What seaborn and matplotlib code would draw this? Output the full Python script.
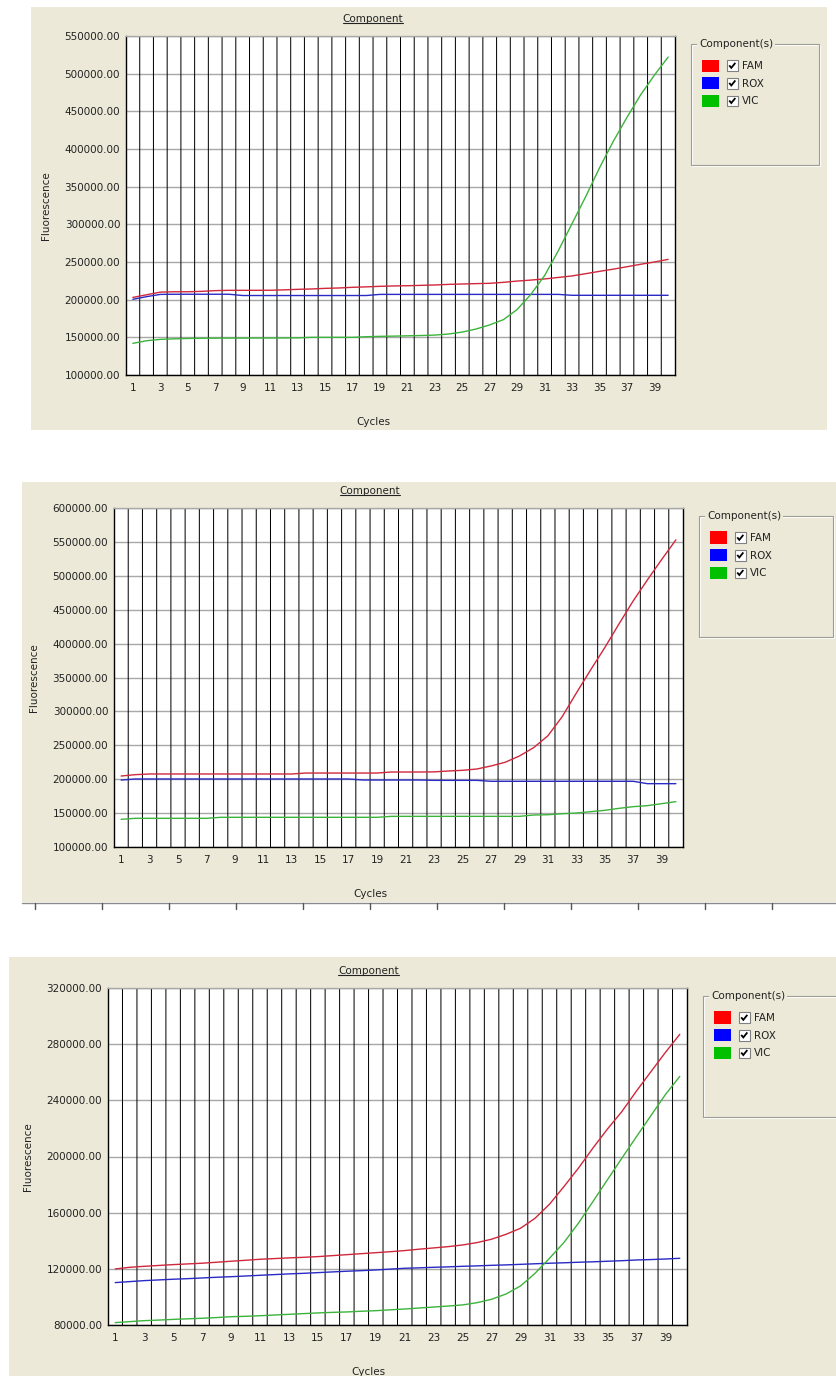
import matplotlib
matplotlib.use("Agg")
import matplotlib.pyplot as plt
import numpy as np
import pandas as pd
import seaborn as sns
from matplotlib.patches import Rectangle, Patch
from matplotlib.lines import Line2D
from matplotlib.legend_handler import HandlerBase

# ---------------------------------------------------------------- data
cycles = list(range(1, 41))
components = ["FAM", "ROX", "VIC"]

# run 1
fam_1 = [203000, 206500, 210000, 210500, 210500, 211000, 212000, 212400, 212400, 212400,
         212500, 213000, 213700, 214200, 215000, 215500, 216400, 217000, 217700, 218200,
         218500, 219000, 219500, 220300, 220800, 221300, 221700, 223000, 224700, 226000,
         227500, 229500, 231500, 234500, 237600, 240500, 243700, 247000, 250000, 253500]
rox_1 = [200500, 204000, 207000, 207200, 207200, 207200, 207200, 207200, 205500, 205500,
         205500, 205500, 205500, 205500, 205500, 205500, 205500, 205500, 207000, 207000,
         207000, 207000, 207000, 207000, 207000, 207000, 207000, 207000, 207000, 207000,
         207000, 207000, 205800, 205800, 205800, 205800, 205800, 205800, 205800, 205800]
vic_1 = [142000, 145500, 147300, 148000, 148500, 148800, 148900, 149000, 149000, 149100,
         149100, 149200, 149300, 150000, 150000, 150000, 150000, 150800, 151300, 151600,
         152000, 152400, 153000, 154400, 157000, 161000, 166500, 173500, 187000, 207000,
         232000, 265000, 301000, 337000, 375000, 410000, 442000, 472000, 498000, 522000]

# run 2
fam_2 = [204700, 206700, 207700, 207700, 207700, 207700, 207700, 207700, 207700, 207700,
         207700, 207700, 207700, 209100, 209100, 209100, 209100, 209100, 209100, 210600,
         210600, 210600, 210800, 212100, 213100, 215000, 219500, 225000, 234200, 246500,
         264000, 292000, 327000, 361000, 394000, 429000, 463000, 494000, 524000, 553000]
rox_2 = [198800, 200300, 200300, 200300, 200300, 200300, 200300, 200300, 200300, 200300,
         200300, 200300, 200300, 200300, 200300, 200300, 200300, 198800, 198800, 198800,
         198800, 198800, 198300, 198300, 198300, 198300, 196900, 196900, 196900, 196900,
         196900, 196900, 196900, 196900, 196900, 196900, 196900, 193400, 193400, 193400]
vic_2 = [140800, 142300, 142300, 142300, 142300, 142300, 142300, 143800, 143800, 143800,
         143800, 143800, 143800, 143800, 143800, 143800, 143800, 143800, 143800, 145200,
         145200, 145200, 145200, 145200, 145200, 145200, 145200, 145200, 145200, 147200,
         147600, 149100, 150100, 152100, 154100, 157000, 159500, 161000, 163900, 166900]

# run 3
fam_3 = [119900, 121100, 121800, 122400, 123000, 123500, 124000, 124700, 125400, 126100,
         126800, 127300, 127800, 128200, 128700, 129400, 130100, 130800, 131500, 132200,
         133000, 134000, 134900, 135800, 137000, 138700, 141100, 144600, 148900, 156000,
         166000, 178600, 191700, 206000, 219500, 232000, 246500, 260300, 274000, 287000]
rox_3 = [110200, 110900, 111600, 112100, 112600, 113000, 113500, 114000, 114400, 114900,
         115400, 115900, 116400, 116800, 117300, 117800, 118300, 118700, 119200, 119800,
         120400, 120700, 121100, 121400, 121800, 122100, 122500, 122800, 123200, 123600,
         124000, 124300, 124700, 125000, 125400, 125800, 126300, 126600, 127000, 127500]
vic_3 = [81700, 82400, 83100, 83500, 84000, 84400, 84800, 85300, 85900, 86200,
         86600, 87100, 87600, 88100, 88600, 89000, 89300, 89800, 90200, 90800,
         91400, 92100, 92800, 93500, 94300, 95900, 98300, 102100, 107800, 116800,
         127500, 138800, 152500, 167900, 183400, 198800, 214000, 229000, 244000, 257000]

y_ticks_1 = [100000, 150000, 200000, 250000, 300000, 350000, 400000, 450000, 500000, 550000]
y_ticks_2 = [100000, 150000, 200000, 250000, 300000, 350000, 400000, 450000, 500000, 550000, 600000]
y_ticks_3 = [80000, 120000, 160000, 200000, 240000, 280000, 320000]
x_tick_labels = list(range(1, 40, 2))

runs = [
    ([fam_1, rox_1, vic_1], y_ticks_1),
    ([fam_2, rox_2, vic_2], y_ticks_2),
    ([fam_3, rox_3, vic_3], y_ticks_3),
]

# ---------------------------------------------------------------- style
sns.set_style("white")
plt.rcParams["font.family"] = ["DejaVu Sans"]
TXT = "#222222"
BEIGE = "#ECE9D8"
line_colors = {"FAM": "#d0283c", "ROX": "#2a2ac4", "VIC": "#3cb43c"}
swatch_colors = {"FAM": "#ff0000", "ROX": "#0000ff", "VIC": "#00c000"}
FS = 7.5

W, H = 836, 1376
fig = plt.figure(figsize=(W / 100, H / 100), dpi=100)
fig.patch.set_facecolor("white")


def fx(px):
    return px / W


def fy(py):
    return 1 - py / H


# panel boxes in pixels: background (x0, y0, x1, y1), plot (left, top, right, bottom), group-box width
layout = [
    ((31, 7, 827, 430), (126, 36, 675, 375), 128),
    ((22, 482, 836, 902), (114, 508, 683, 847), 134),
    ((9, 957, 836, 1376), (108, 988, 687, 1325), 134),
]


class SwatchCheck(HandlerBase):
    """Colour swatch followed by a ticked checkbox."""

    def create_artists(self, legend, orig_handle, xdescent, ydescent,
                       width, height, fontsize, trans):
        x0, y0 = -xdescent, -ydescent
        sw = Rectangle((x0, y0), 12, height, facecolor=orig_handle.get_facecolor(),
                       edgecolor="none", transform=trans)
        bs = 7.6
        bx, by = x0 + 18, y0 + (height - bs) / 2
        box = Rectangle((bx, by), bs, bs, facecolor="white", edgecolor="#808080",
                        linewidth=0.8, transform=trans)
        tick = Line2D([bx + 1.6, bx + 3.1, bx + 6.0], [by + 4.0, by + 2.2, by + 5.8],
                      color="black", linewidth=1.3, transform=trans,
                      solid_capstyle="butt", solid_joinstyle="miter")
        return [sw, box, tick]


titles = []
for (ser, yt), (bg, (l, t, r, b), legw) in zip(runs, layout):
    x0, y0, x1, y1 = bg
    fig.add_artist(Rectangle((fx(x0), fy(y1)), (x1 - x0) / W, (y1 - y0) / H,
                             transform=fig.transFigure, facecolor=BEIGE,
                             edgecolor="none", zorder=0))

    ax = fig.add_axes([fx(l), fy(b), (r - l) / W, (b - t) / H])
    ax.set_facecolor("white")

    df = pd.DataFrame({
        "Cycle": np.tile(cycles, len(components)),
        "Fluorescence": np.concatenate([np.asarray(s, dtype=float) for s in ser]),
        "Component": np.repeat(components, len(cycles)),
    })

    # cycle separators
    for c in cycles[:-1]:
        ax.axvline(c + 0.5, color="black", linewidth=0.72, snap=False, zorder=1)

    sns.lineplot(data=df, x="Cycle", y="Fluorescence", hue="Component",
                 palette=line_colors, ax=ax, legend=False, linewidth=1.0,
                 zorder=3)

    ax.set_xlim(0.5, 40.5)
    ax.set_ylim(yt[0], yt[-1])
    ax.set_yticks(yt)
    ax.set_yticklabels([f"{v:.2f}" for v in yt])
    ax.set_xticks(x_tick_labels)
    ax.set_xticklabels([str(v) for v in x_tick_labels])
    ax.tick_params(axis="both", length=0, labelsize=FS, colors=TXT)
    ax.tick_params(axis="x", pad=5.8)
    ax.tick_params(axis="y", pad=4.2)
    ax.yaxis.grid(True, color="#a8a8a8", linewidth=1.0, zorder=0)
    ax.xaxis.grid(False)
    ax.set_axisbelow(True)
    ax.set_xlabel("")
    ax.set_ylabel("")
    for side in ("left", "bottom", "right"):
        ax.spines[side].set_color("black")
        ax.spines[side].set_linewidth(1.0)
        ax.spines[side].set_visible(True)
    ax.spines["top"].set_color("#a8a8a8")
    ax.spines["top"].set_linewidth(1.0)

    titles.append(ax.annotate("Component", xy=(0.45, 1), xycoords="axes fraction",
                              xytext=(0, 16.5 * 0.72), textcoords="offset points",
                              ha="center", va="center", fontsize=FS, color=TXT))
    ax.annotate("Cycles", xy=(0.45, 0), xycoords="axes fraction",
                xytext=(0, -47 * 0.72), textcoords="offset points",
                ha="center", va="center", fontsize=FS, color=TXT)
    ax.annotate("Fluorescence", xy=(0, 0.5), xycoords="axes fraction",
                xytext=(-80 * 0.72, 0), textcoords="offset points",
                ha="center", va="center", rotation=90, fontsize=FS, color=TXT)

    # group box around the component list
    gl, gt, gh = r + 16, t + 8, 121
    fig.add_artist(Rectangle((fx(gl + 1), fy(gt + gh + 1)), legw / W, gh / H,
                             transform=fig.transFigure, facecolor="none",
                             edgecolor="white", linewidth=0.8, zorder=1))
    fig.add_artist(Rectangle((fx(gl), fy(gt + gh)), legw / W, gh / H,
                             transform=fig.transFigure, facecolor="none",
                             edgecolor="#9d9d96", linewidth=0.8, zorder=1))
    fig.text(fx(gl + 8), fy(gt), "Component(s)", ha="left", va="center",
             fontsize=FS, color=TXT, zorder=2,
             bbox=dict(facecolor=BEIGE, edgecolor="none", pad=1.2))

    handles = [Patch(facecolor=swatch_colors[c]) for c in components]
    ax.legend(handles, components, loc="upper left",
              bbox_to_anchor=(fx(r + 27), fy(t + 23.5)), bbox_transform=fig.transFigure,
              frameon=False, borderpad=0, borderaxespad=0, fontsize=FS,
              handlelength=25.6 / FS, handleheight=10.8 / FS,
              handletextpad=3.4 / FS, labelspacing=3.8 / FS,
              handler_map={Patch: SwatchCheck()}, labelcolor=TXT)

# ruler-like divider under the second panel
fig.add_artist(Line2D([fx(22), fx(836)], [fy(903), fy(903)], transform=fig.transFigure,
                      color="#8a8a8a", linewidth=1.0, zorder=1))
for k in range(12):
    xp = 35 + 67 * k
    fig.add_artist(Line2D([fx(xp), fx(xp)], [fy(903), fy(909)], transform=fig.transFigure,
                          color="#555555", linewidth=1.0, zorder=1))

# underline the panel titles
fig.canvas.draw()
renderer = fig.canvas.get_renderer()
for tt in titles:
    bb = tt.get_window_extent(renderer)
    yl = bb.y0 + 1.5
    fig.add_artist(Line2D([bb.x0 / W, bb.x1 / W], [yl / H, yl / H],
                          transform=fig.transFigure, color=TXT, linewidth=0.8))

fig.savefig("out.png", dpi=100, facecolor=fig.get_facecolor())
